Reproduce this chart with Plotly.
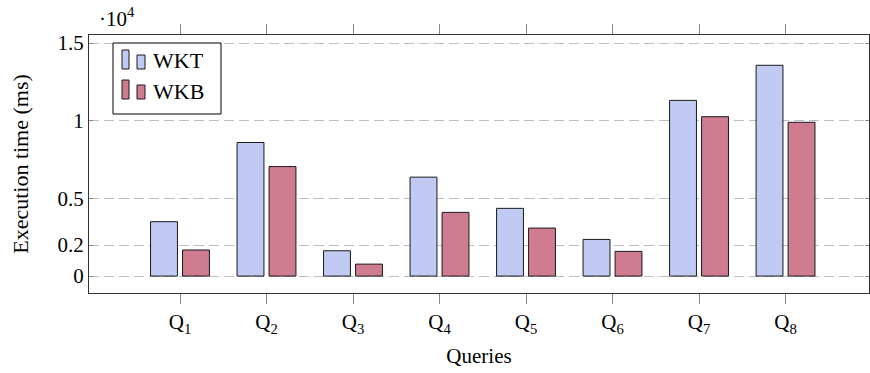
import plotly.graph_objects as go

queries = ["Q<sub>1</sub>", "Q<sub>2</sub>", "Q<sub>3</sub>", "Q<sub>4</sub>",
           "Q<sub>5</sub>", "Q<sub>6</sub>", "Q<sub>7</sub>", "Q<sub>8</sub>"]
wkt = [3500, 8600, 1630, 6370, 4360, 2360, 11310, 13570]
wkb = [1680, 7050, 770, 4100, 3090, 1590, 10260, 9900]
ytick_vals = [0, 2000, 5000, 10000, 15000]
ytick_text = ["0", "0.2", "0.5", "1", "1.5"]
series_names = ["WKT", "WKB"]
series_colors = ["#c1caf3", "#cf7c90"]

FONT = "Liberation Serif, Times New Roman, serif"
FS = 21

fig = go.Figure()
for name, vals, col in zip(series_names, [wkt, wkb], series_colors):
    fig.add_trace(go.Bar(x=queries, y=vals, name=name, marker_color=col,
                         marker_line_color="#1a1a1a", marker_line_width=1,
                         showlegend=False))

fig.update_layout(
    width=870, height=373,
    margin=dict(l=89, r=1, t=35, b=80),
    paper_bgcolor="white", plot_bgcolor="white",
    barmode="group", bargap=0.26, bargroupgap=0.16,
    font=dict(family=FONT, size=FS, color="black"),
)
fig.update_xaxes(
    range=[-1.052, 7.965], showline=True, linecolor="#333", linewidth=1,
    mirror="ticks", ticks="outside", ticklen=10, tickcolor="#888",
    tickfont=dict(family=FONT, size=FS),
    title=dict(text="Queries", font=dict(family=FONT, size=FS), standoff=12),
    showgrid=False,
)
fig.update_yaxes(
    range=[-1090, 15520], showline=True, linecolor="#333", linewidth=1,
    mirror="ticks", ticks="inside", ticklen=4, tickcolor="#888",
    tickvals=ytick_vals, ticktext=ytick_text,
    tickfont=dict(family=FONT, size=FS),
    showgrid=True, gridcolor="#bdbdbd", gridwidth=1, griddash="10px,5px",
    zeroline=False,
    title=dict(text="Execution time (ms)", font=dict(family=FONT, size=FS + 1), standoff=22),
)

# scale factor annotation
fig.add_annotation(xref="paper", yref="paper", x=0.01, y=1.0, yshift=18,
                   xanchor="left", yanchor="middle", showarrow=False,
                   text="·10<sup>4</sup>", font=dict(family=FONT, size=FS))

# custom legend (pgfplots style two-bar icons)
pl, pr, pt, pb = 89, 869, 35, 293
def px(x):
    return (x - pl) / (pr - pl)
def py(y):
    return (pb - y) / (pb - pt)

fig.add_shape(type="rect", xref="paper", yref="paper",
              x0=px(113), x1=px(221), y0=py(114), y1=py(43),
              line=dict(color="black", width=1), fillcolor="white", layer="above")
for i, (name, col) in enumerate(zip(series_names, series_colors)):
    top = 50 + i * 30
    bottom = 69 + i * 30
    fig.add_shape(type="rect", xref="paper", yref="paper",
                  x0=px(122), x1=px(129), y0=py(bottom), y1=py(top),
                  line=dict(color="#1a1a1a", width=1), fillcolor=col, layer="above")
    fig.add_shape(type="rect", xref="paper", yref="paper",
                  x0=px(137), x1=px(145), y0=py(bottom), y1=py(top + 5),
                  line=dict(color="#1a1a1a", width=1), fillcolor=col, layer="above")
    fig.add_annotation(xref="paper", yref="paper", x=px(151), y=py(61 + i * 30),
                       xanchor="left", yanchor="middle", showarrow=False,
                       text=name, font=dict(family=FONT, size=FS + 1))

fig.write_html("out.html", config={"displayModeBar": False},
               post_script="document.body.style.margin='0';")
